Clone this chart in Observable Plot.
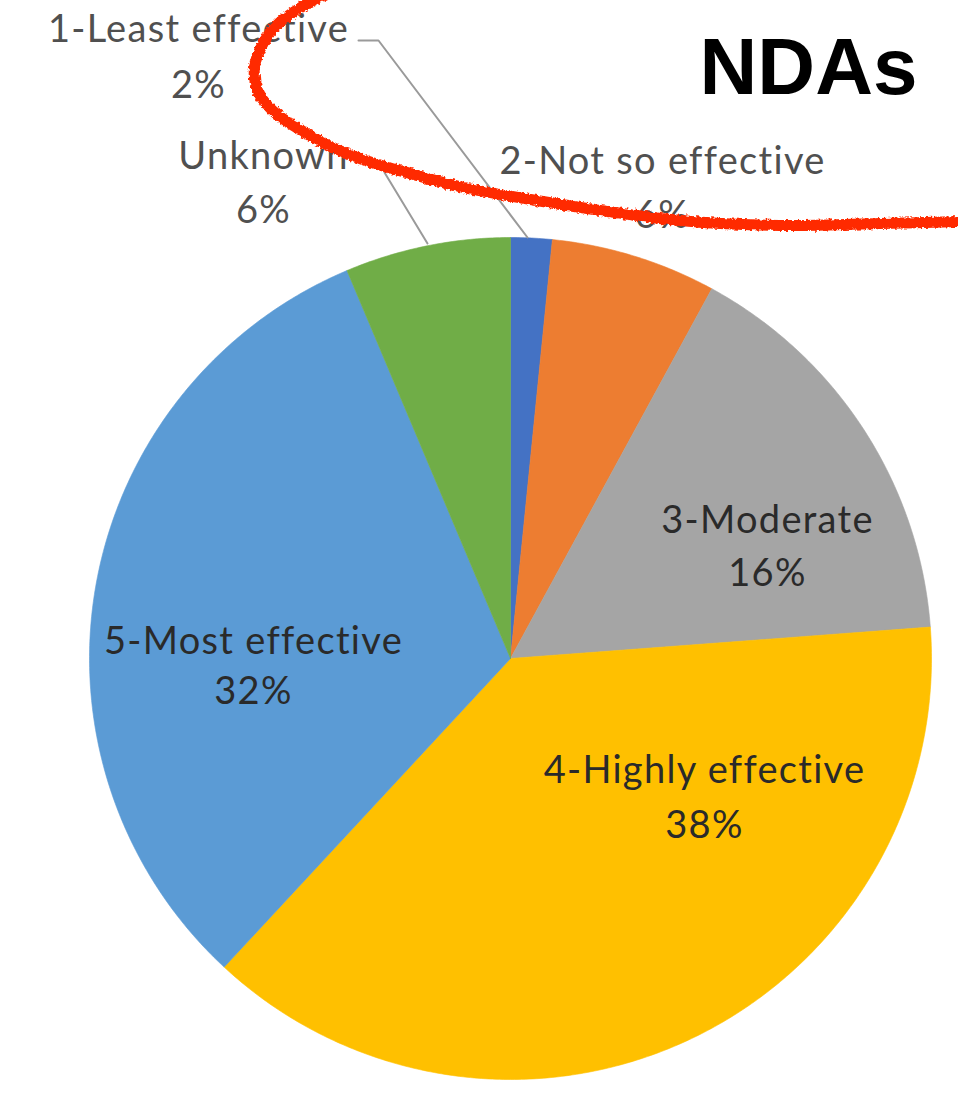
<!DOCTYPE html>
<html><head><meta charset="utf-8">
<script src="https://cdn.jsdelivr.net/npm/d3@7"></script>
<script src="https://cdn.jsdelivr.net/npm/@observablehq/plot@0.6"></script>
<style>html,body{margin:0;padding:0;background:#fff;overflow:hidden}#chart{width:958px;height:1093px}</style>
</head><body><div id="chart"></div>
<script>
// ---- data ----
const categories = ["1-Least effective","2-Not so effective","3-Moderate","4-Highly effective","5-Most effective","Unknown"];
const counts = [1, 4, 10, 24, 20, 4];
const percentLabels = ["2%","6%","16%","38%","32%","6%"];
const sliceColors = ["#4472C4","#ED7D31","#A5A5A5","#FFC000","#5B9BD5","#70AD47"];
const title = "NDAs";

// ---- layout (pixel space) ----
const W = 958, H = 1093, CX = 510, CY = 658, R = 421;
const labelX  = [198, 662, 767, 704, 253, 263];
const labelY1 = [41, 173, 532, 782, 653, 168];
const labelY2 = [97, 227, 585, 837, 703, 222];
const labelInside = [false, false, true, true, true, false];
const leaderLines = [
  {id: "least", pts: [[358, 40], [378, 40], [527, 237]]},
  {id: "unknown", pts: [[384, 172], [427, 243]]}
];
const redStroke = [[328,-8],[302,6],[279,22],[263,42],[254,67],[257,90],[272,110],[296,127],[330,146],[365,160],[413,174],[463,187],[530,199],[600,210],[660,218],[720,223],[800,225],[880,223],[965,221]];

// ---- build slices ----
const arcs = d3.pie().sort(null).value(d => d)(counts);
const slicePts = [];
arcs.forEach((a, i) => {
  const cat = categories[i];
  slicePts.push({cat, x: CX, y: CY});
  const n = Math.max(4, Math.ceil((a.endAngle - a.startAngle) / (Math.PI / 360)));
  for (let k = 0; k <= n; k++) {
    const t = a.startAngle + (a.endAngle - a.startAngle) * k / n;
    slicePts.push({cat, x: CX + R * Math.sin(t), y: CY - R * Math.cos(t)});
  }
  slicePts.push({cat, x: CX, y: CY});
});

const leaderPts = leaderLines.flatMap(l => l.pts.map(p => ({id: l.id, x: p[0], y: p[1]})));
const idx = categories.map((_, i) => i);
const fontLabel = "Lato, 'Open Sans', sans-serif";

const chart = Plot.plot({
  width: W, height: H,
  margin: 0,
  x: {domain: [0, W], range: [0, W], axis: null},
  y: {domain: [0, H], range: [0, H], axis: null},
  color: {domain: categories, range: sliceColors},
  style: {background: "#fff", overflow: "hidden"},
  marks: [
    Plot.line(slicePts, {x: "x", y: "y", z: "cat", fill: "cat", stroke: "cat", strokeWidth: 0.6, curve: "linear"}),
    Plot.line(leaderPts, {x: "x", y: "y", z: "id", stroke: "#9a9a9a", strokeWidth: 2}),
    Plot.text(idx, {x: i => labelX[i], y: i => labelY1[i], text: i => categories[i], lineAnchor: "bottom", textAnchor: "middle",
      fontSize: 38, fontFamily: fontLabel, fill: i => labelInside[i] ? "#2a2a2a" : "#505050"}),
    Plot.text(idx, {x: i => labelX[i], y: i => labelY2[i], text: i => percentLabels[i], lineAnchor: "bottom", textAnchor: "middle",
      fontSize: 38, fontFamily: fontLabel, fill: i => labelInside[i] ? "#2a2a2a" : "#505050"}),
    Plot.line(redStroke, {x: d => d[0], y: d => d[1], curve: "catmull-rom", stroke: "#ff2a00", strokeWidth: 11, strokeLinecap: "round"}),
    Plot.text([title], {x: () => 808, y: () => 93, text: d => d, lineAnchor: "bottom", textAnchor: "middle",
      fontSize: 80, fontWeight: "bold", fontFamily: "'Liberation Sans', Arial, sans-serif", fill: "#000"})
  ]
});

// letter spacing for the Calibri-like data labels
chart.querySelectorAll('g[font-size="38"]').forEach(g => g.setAttribute("letter-spacing", "1.3"));
// rough hand-drawn texture on the red annotation
const ns = "http://www.w3.org/2000/svg";
const defs = document.createElementNS(ns, "defs");
defs.innerHTML = '<filter id="rough" x="-5%" y="-5%" width="110%" height="110%"><feTurbulence type="fractalNoise" baseFrequency="0.35" numOctaves="2" seed="3" result="n"/><feDisplacementMap in="SourceGraphic" in2="n" scale="5" xChannelSelector="R" yChannelSelector="G"/></filter>';
chart.insertBefore(defs, chart.firstChild);
chart.querySelectorAll('g[stroke="#ff2a00"]').forEach(g => g.setAttribute("filter", "url(#rough)"));
document.getElementById("chart").appendChild(chart);
</script>
</body></html>
